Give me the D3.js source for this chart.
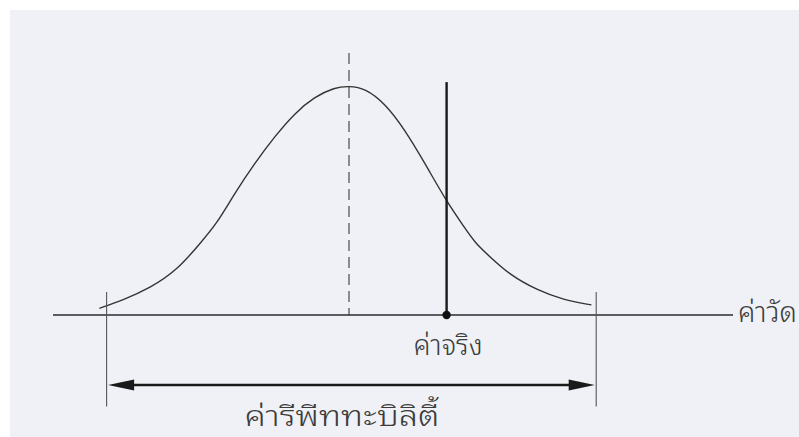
<!DOCTYPE html>
<html>
<head>
<meta charset="utf-8">
<script src="https://cdn.jsdelivr.net/npm/d3@7"></script>
<style>
  html, body { margin: 0; padding: 0; background: #ffffff; }
  svg { display: block; }
  .thai { font-family: "Noto Sans Thai Looped", "Loma", "Garuda", "Norasi", "Noto Sans Thai", "Noto Sans", sans-serif; font-weight: 300; fill: #3c3c3c; }
</style>
</head>
<body>
<svg id="chart" width="799" height="437"></svg>
<script>
// Measured-value distribution (x in measurement units, y relative frequency)
const curveX = [-3.12, -2.82, -2.49, -2.15, -1.86, -1.65, -1.43, -1.18, -0.93, -0.68, -0.43, -0.18, 0.0, 0.2, 0.45, 0.7, 0.95, 1.22, 1.45, 1.58, 1.76, 2.01, 2.35, 2.68, 3.03];
const curveY = [0.029, 0.066, 0.117, 0.195, 0.313, 0.40, 0.531, 0.662, 0.779, 0.881, 0.953, 0.994, 1.0, 0.99, 0.924, 0.808, 0.662, 0.495, 0.379, 0.313, 0.255, 0.175, 0.109, 0.066, 0.044];

// Reference positions along the measurement axis
const meanValue = 0.0;          // centre of the distribution (dashed)
const trueValue = 1.22;         // ค่าจริง
const repeatLow = -3.03;        // repeatability interval, lower end
const repeatHigh = 3.09;        // repeatability interval, upper end
const axisExtent = [-3.7, 4.8];

// Labels
const axisLabel = "ค่าวัด";
const trueLabel = "ค่าจริง";
const rangeLabel = "ค่ารีพีททะบิลิตี้";

const svg = d3.select("#chart");
const W = 799, H = 437;

// paper background with a thin white margin at top and left
svg.append("rect").attr("x", 0).attr("y", 0).attr("width", W).attr("height", H).attr("fill", "#ffffff");
svg.append("rect").attr("x", 10).attr("y", 10).attr("width", W - 10).attr("height", H - 10).attr("fill", "#eff1f6");

const x = d3.scaleLinear().domain(axisExtent).range([53, 733]);
const y = d3.scaleLinear().domain([0, 1]).range([315, 86]);

const ink = "#2b2b2b";

// measurement axis
svg.append("line")
  .attr("x1", x(axisExtent[0])).attr("x2", x(axisExtent[1]))
  .attr("y1", y(0)).attr("y2", y(0))
  .attr("stroke", ink).attr("stroke-width", 1.6);

// distribution curve
const pts = curveX.map((v, i) => [v, curveY[i]]);
svg.append("path")
  .datum(pts)
  .attr("d", d3.line().x(d => x(d[0])).y(d => y(d[1])).curve(d3.curveBasis))
  .attr("fill", "none").attr("stroke", "#333").attr("stroke-width", 1.4);

// mean (dashed)
svg.append("line")
  .attr("x1", x(meanValue)).attr("x2", x(meanValue))
  .attr("y1", y(1.144)).attr("y2", y(0))
  .attr("stroke", "#3a3a3a").attr("stroke-width", 1.1)
  .attr("stroke-dasharray", "11,6");

// true value
svg.append("line")
  .attr("x1", x(trueValue)).attr("x2", x(trueValue))
  .attr("y1", y(1.017)).attr("y2", y(0))
  .attr("stroke", "#1a1a1a").attr("stroke-width", 2.4);
svg.append("circle")
  .attr("cx", x(trueValue)).attr("cy", y(0)).attr("r", 4.2)
  .attr("fill", "#111");

// repeatability interval bounds
[repeatLow, repeatHigh].forEach(v => {
  svg.append("line")
    .attr("x1", x(v)).attr("x2", x(v))
    .attr("y1", y(0.10)).attr("y2", y(-0.40))
    .attr("stroke", "#555").attr("stroke-width", 1.1);
});

// double-headed arrow between the bounds
const ay = y(-0.306);
const ax0 = x(repeatLow) + 1.5, ax1 = x(repeatHigh) - 1.5;
const headL = 26, headW = 5.5;
svg.append("line")
  .attr("x1", ax0 + headL - 2).attr("x2", ax1 - headL + 2)
  .attr("y1", ay).attr("y2", ay)
  .attr("stroke", "#1a1a1a").attr("stroke-width", 2.6);
svg.append("path")
  .attr("d", `M${ax0},${ay} L${ax0 + headL},${ay - headW} L${ax0 + headL},${ay + headW} Z`)
  .attr("fill", "#1a1a1a");
svg.append("path")
  .attr("d", `M${ax1},${ay} L${ax1 - headL},${ay - headW} L${ax1 - headL},${ay + headW} Z`)
  .attr("fill", "#1a1a1a");

// labels, each fitted to its width along the axis
function label(text, cx, baseline, width, size) {
  const g = svg.append("g");
  const t = g.append("text").attr("class", "thai")
    .attr("font-size", size).attr("text-anchor", "middle")
    .attr("x", 0).attr("y", 0).text(text);
  const bb = t.node().getBBox();
  const sx = width / bb.width;
  g.attr("transform", `translate(${cx},${baseline}) scale(${sx},1)`);
}
label(axisLabel, 767.5, 322, 59, 29);
label(trueLabel, 448, 355, 69, 29);
label(rangeLabel, 342, 426, 195, 28);
</script>
</body>
</html>
